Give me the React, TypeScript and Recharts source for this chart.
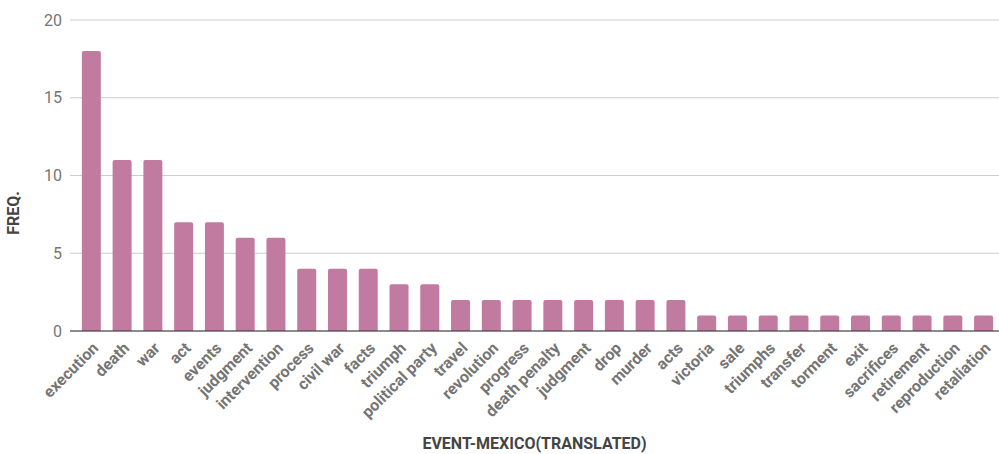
import { BarChart, Bar, XAxis, YAxis, CartesianGrid } from "recharts";

const categories = [
  "execution", "death", "war", "act", "events", "judgment", "intervention",
  "process", "civil war", "facts", "triumph", "political party", "travel",
  "revolution", "progress", "death penalty", "judgment", "drop", "murder",
  "acts", "victoria", "sale", "triumphs", "transfer", "torment", "exit",
  "sacrifices", "retirement", "reproduction", "retaliation",
];

const freq = [
  18, 11, 11, 7, 7, 6, 6, 4, 4, 4, 3, 3, 2, 2, 2, 2, 2, 2, 2, 2,
  1, 1, 1, 1, 1, 1, 1, 1, 1, 1,
];

const yTicks = [0, 5, 10, 15, 20];

const data = categories.map((name, i) => ({ name, value: freq[i] }));

const FONT = "Roboto, 'Noto Sans', sans-serif";

function XTick({ x, y, payload }: any) {
  return (
    <g transform={`translate(${x + 1},${y + 3})`}>
      <text
        textAnchor="end"
        transform="rotate(-45)"
        dy={10}
        fontSize={16}
        fontWeight={700}
        fill="#757575"
        fontFamily={FONT}
      >
        {payload.value}
      </text>
    </g>
  );
}

export default function App() {
  return (
    <div
      style={{
        position: "fixed",
        top: 0,
        left: 0,
        background: "#fff",
        width: 999,
        height: 454,
      }}
    >
      <BarChart
        width={999}
        height={454}
        data={data}
        margin={{ top: 20, right: 0, bottom: 0, left: 0 }}
        barCategoryGap="19%"
      >
        <CartesianGrid vertical={false} stroke="#cccccc" />
        <XAxis
          dataKey="name"
          interval={0}
          height={123}
          padding={{ left: 6, right: 0 }}
          tickLine={false}
          axisLine={{ stroke: "#333333" }}
          tick={<XTick />}
          label={{
            content: ({ viewBox }: any) => (
              <text
                x={viewBox.x + viewBox.width / 2}
                y={449}
                textAnchor="middle"
                fontSize={16}
                fontWeight={700}
                fill="#444444"
                fontFamily={FONT}
              >
                EVENT-MEXICO(TRANSLATED)
              </text>
            ),
          }}
        />
        <YAxis
          width={70}
          domain={[0, 20]}
          ticks={yTicks}
          tickLine={false}
          axisLine={false}
          tick={{ fontSize: 16, fill: "#757575", fontFamily: FONT }}
          label={{
            content: () => (
              <text
                x={19}
                y={213}
                textAnchor="middle"
                transform="rotate(-90 19 213)"
                fontSize={16}
                fontWeight={700}
                fill="#444444"
                fontFamily={FONT}
              >
                FREQ.
              </text>
            ),
          }}
        />
        <Bar
          dataKey="value"
          fill="#c27ba0"
          radius={[2, 2, 0, 0]}
          isAnimationActive={false}
        />
      </BarChart>
    </div>
  );
}
